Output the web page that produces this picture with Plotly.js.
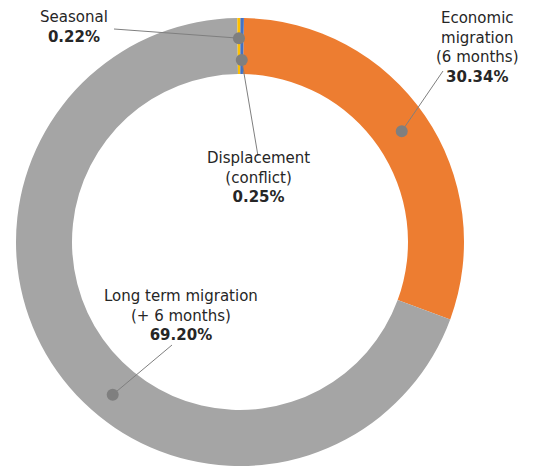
<!DOCTYPE html>
<html>
<head>
<meta charset="utf-8">
<script src="https://cdn.plot.ly/plotly-3.0.1.min.js"></script>
<style>
  html, body { margin: 0; padding: 0; background: #ffffff; }
  #chart { width: 534px; height: 468px; }
</style>
</head>
<body>
<div id="chart"></div>
<script>
// ---- data ----
const categories = ["Economic migration (6 months)", "Long term migration (+ 6 months)", "Seasonal", "Displacement (conflict)"];
const labelLines = ["Economic<br>migration<br>(6 months)", "Long term migration<br>(+ 6 months)", "Seasonal", "Displacement<br>(conflict)"];
const shares = [30.34, 69.20, 0.22, 0.25];

// ---- styles & placement ----
const sliceColors = ["#ED7D31", "#A5A5A5", "#FFC000", "#4472C4"];
const W = 534, H = 468;
const M = { l: 0, r: 0, t: 18, b: 2 };
const HOLE = 0.75;
const ROTATION = 1;
// label text centres (px), leader line free end (px), dot position inside slice
const labelCenters = [[477, 48], [181, 315], [74, 27], [258, 178]];
const leaderEnds   = [[443, 71], [172, 345], [114, 29], [258, 156]];
const dotAngleFrac = [0.5, 0.44, 0.5, 0.5];
const dotRingFrac  = [0.5, 0.55, 0.64, 0.25];
const FONT = "DejaVu Sans";
const TEXT_COLOR = "#262626";
const LEADER_COLOR = "#7F7F7F";

const pw = W - M.l - M.r, ph = H - M.t - M.b;
const px2x = px => (px - M.l) / pw;
const py2y = py => (H - M.b - py) / ph;

const annotations = labelLines.map((t, i) => ({
  xref: "paper", yref: "paper",
  x: px2x(labelCenters[i][0]), y: py2y(labelCenters[i][1]),
  xanchor: "center", yanchor: "middle", align: "center",
  showarrow: false,
  text: t + "<br><b>" + shares[i].toFixed(2) + "%</b>",
  font: { family: FONT, size: 15, color: TEXT_COLOR }
}));

const trace = {
  type: "pie",
  labels: categories,
  values: shares,
  hole: HOLE,
  sort: false,
  direction: "clockwise",
  rotation: ROTATION,
  textinfo: "none",
  hoverinfo: "label+percent",
  showlegend: false,
  marker: { colors: sliceColors, line: { width: 0 } },
  domain: { x: [0, 480 / W], y: [0, 1] }
};

const layout = {
  width: W, height: H,
  margin: M,
  paper_bgcolor: "#ffffff",
  plot_bgcolor: "#ffffff",
  showlegend: false,
  annotations: annotations,
  font: { family: FONT, color: TEXT_COLOR }
};

const gd = document.getElementById("chart");
Plotly.newPlot(gd, [trace], layout, { displayModeBar: false, staticPlot: true }).then(() => {
  let cx = M.l + pw * (480 / W) / 2, cy = M.t + ph / 2, r = Math.min(480, ph) / 2;
  try {
    const cd0 = gd.calcdata[0][0];
    if (isFinite(cd0.cx)) cx = cd0.cx;
    if (isFinite(cd0.cy)) cy = cd0.cy;
    if (isFinite(cd0.r)) r = cd0.r;
  } catch (e) {}
  const rIn = r * HOLE;
  const total = shares.reduce((a, b) => a + b, 0);
  let cum = 0;
  const shapes = [];
  shares.forEach((v, i) => {
    const a0 = ROTATION + 360 * cum / total;
    const a1 = a0 + 360 * v / total;
    cum += v;
    const ang = (a0 + dotAngleFrac[i] * (a1 - a0)) * Math.PI / 180;
    const rr = rIn + dotRingFrac[i] * (r - rIn);
    const dx = cx + rr * Math.sin(ang), dy = cy - rr * Math.cos(ang);
    shapes.push({
      type: "line", xref: "paper", yref: "paper",
      x0: px2x(leaderEnds[i][0]), y0: py2y(leaderEnds[i][1]),
      x1: px2x(dx), y1: py2y(dy),
      line: { color: LEADER_COLOR, width: 1 }
    });
    const dr = 6;
    shapes.push({
      type: "circle", xref: "paper", yref: "paper",
      x0: px2x(dx - dr), x1: px2x(dx + dr),
      y0: py2y(dy + dr), y1: py2y(dy - dr),
      fillcolor: LEADER_COLOR, line: { width: 0 }
    });
  });
  return Plotly.relayout(gd, { shapes: shapes });
});
</script>
</body>
</html>
